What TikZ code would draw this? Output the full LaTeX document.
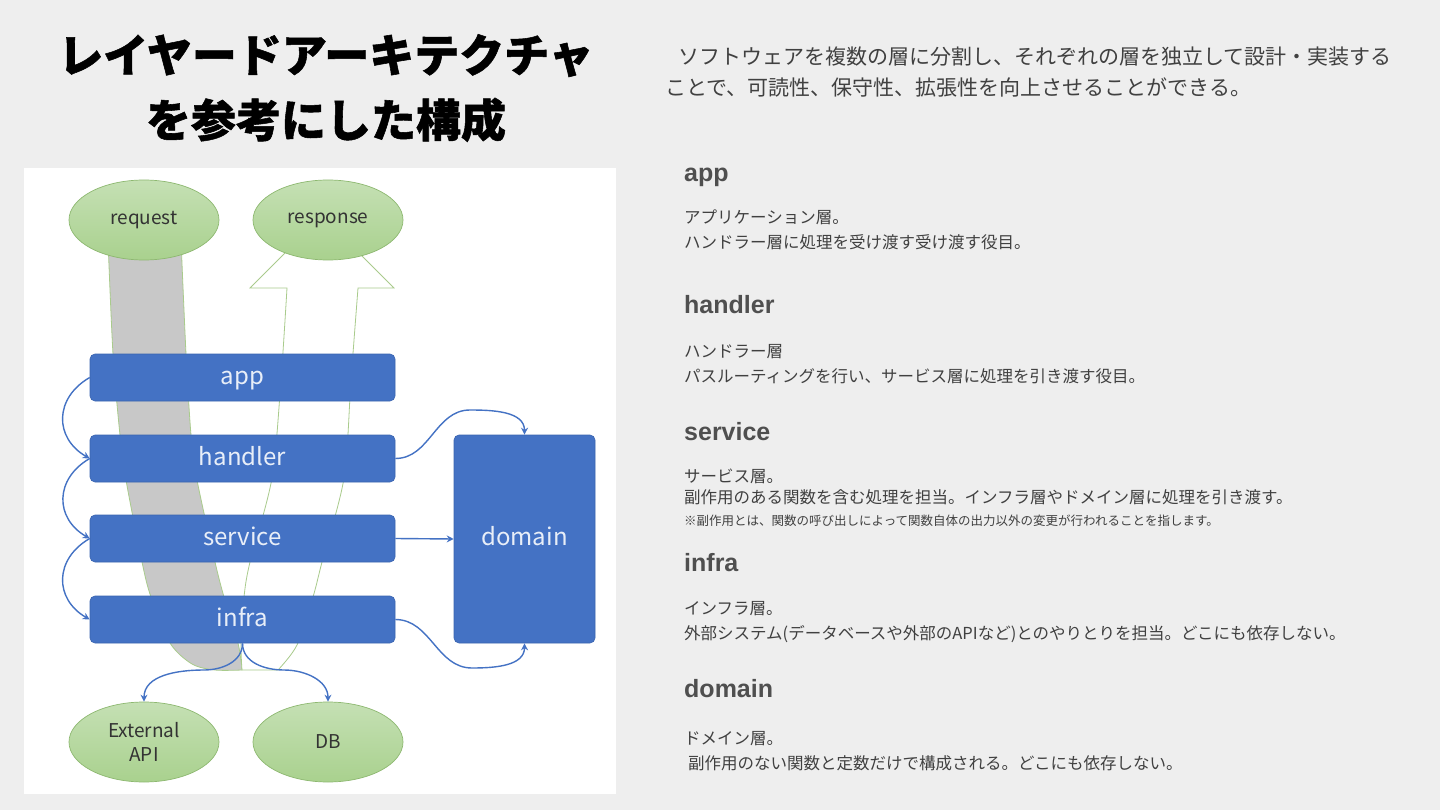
\documentclass[tikz,border=0pt]{standalone}
\usepackage{fontspec}
\setmainfont{Noto Sans CJK JP}
\newfontfamily\jp{Noto Sans CJK JP}
\newfontfamily\ttlfont{Noto Sans CJK JP}[BoldFeatures={FakeBold=1.2}]
\newfontfamily\hd{Liberation Sans}
\usetikzlibrary{arrows.meta,shapes.geometric}
\definecolor{bg}{HTML}{EEEEEE}
\definecolor{lblue}{HTML}{4472C4}
\definecolor{lblueedge}{HTML}{3A64B0}
\definecolor{gfill}{HTML}{A9D18E}
\definecolor{gtop}{HTML}{C5E0B4}
\definecolor{gline}{HTML}{8DB870}
\definecolor{bandc}{HTML}{C8C8C8}
\definecolor{arrline}{HTML}{A9CB8C}
\definecolor{txt}{HTML}{404040}
\definecolor{hdc}{HTML}{4F4F4F}
\definecolor{boxtxt}{HTML}{E8EEF8}
\tikzset{
  layer/.style={rectangle, rounded corners=5pt, fill=lblue, draw=lblueedge, line width=0.6pt,
    minimum width=305pt, minimum height=47pt, inner sep=0pt, text=boxtxt,
    text height=18pt, text depth=5pt,
    font=\jp\fontsize{24}{28}\selectfont},
  ext/.style={ellipse, top color=gtop, bottom color=gfill, draw=gline, line width=0.7pt,
    minimum width=150pt, minimum height=80pt, inner sep=0pt, text=black!80,
    font=\jp\fontsize{19}{22}\selectfont, align=center},
  conn/.style={draw=lblue, line width=1.4pt, -{Stealth[length=7pt,width=7pt]}},
  heading/.style={anchor=base west, inner sep=0pt, text=hdc, font=\hd\bfseries\fontsize{25}{30}\selectfont},
  body/.style={anchor=base west, inner sep=0pt, text=txt, font=\jp\fontsize{16.5}{20}\selectfont},
  desc/.style={anchor=base west, inner sep=0pt, text=txt, font=\jp\fontsize{21}{26}\selectfont},
  titletext/.style={anchor=base, inner sep=0pt, text=black, font=\ttlfont\bfseries\fontsize{45}{50}\selectfont}
}
\begin{document}
\begin{tikzpicture}[x=1pt,y=-1pt]
\useasboundingbox (0,0) rectangle (1440,810);
\fill[bg] (0,0) rectangle (1440,810);
% title
\node[titletext] (t1) at (326,72) {レイヤードアーキテクチャ};
\node[titletext] (t2) at (326,137) {を参考にした構成};
% description
\node[desc] (d1) at (678,65) {ソフトウェアを複数の層に分割し、それぞれの層を独立して設計・実装する};
\node[desc] (d2) at (665,96) {ことで、可読性、保守性、拡張性を向上させることができる。};
% headings and bodies
\node[heading] (happ) at (684,182) {app};
\node[body] (bapp1) at (684,224) {アプリケーション層。};
\node[body] (bapp2) at (684,249) {ハンドラー層に処理を受け渡す受け渡す役目。};
\node[heading] (hhan) at (684,313) {handler};
\node[body] (bhan1) at (684,357) {ハンドラー層};
\node[body] (bhan2) at (684,382) {パスルーティングを行い、サービス層に処理を引き渡す役目。};
\node[heading] (hser) at (684,440) {service};
\node[body] (bser1) at (684,482) {サービス層。};
\node[body] (bser2) at (684,503) {副作用のある関数を含む処理を担当。インフラ層やドメイン層に処理を引き渡す。};
\node[body, font=\jp\fontsize{12.5}{15}\selectfont] (bser3) at (684,525) {※副作用とは、関数の呼び出しによって関数自体の出力以外の変更が行われることを指します。};
\node[heading] (hinf) at (684,571) {infra};
\node[body] (binf1) at (684,614) {インフラ層。};
\node[body] (binf2) at (684,639) {外部システム(データベースや外部のAPIなど)とのやりとりを担当。どこにも依存しない。};
\node[heading] (hdom) at (684,697) {domain};
\node[body] (bdom1) at (684,744) {ドメイン層。};
\node[body] (bdom2) at (688,769) {副作用のない関数と定数だけで構成される。どこにも依存しない。};
% panel
\fill[white] (24,168) rectangle (616,794);
% gray request band
\filldraw[fill=bandc, draw=arrline, line width=0.8pt]
  plot[smooth] coordinates {(108,240) (113,354) (120,435) (126,480) (142,562) (151,597) (170,643) (192,664) (215,670) (242,670)}
  -- plot[smooth] coordinates {(242,670) (238,643) (224,597) (215,562) (197,480) (191,435) (186,354) (181,240)} -- cycle;
% response arrow outline
\filldraw[fill=white, draw=arrline, line width=0.8pt]
  (242,670) -- (278,670)
  -- plot[smooth] coordinates {(278,670) (297,645) (313,597) (322,562) (344,478) (351,380) (358,288)}
  -- (394,288) -- (322,216) -- (250,288) -- (287,288)
  -- plot[smooth] coordinates {(287,288) (281,380) (272,478) (250,562) (244,597) (241,643) (242,670)} -- cycle;
% ellipses
\node[ext] (req) at (144,220) {request};
\node[ext] (res) at (328,220) {response};
\node[ext] (api) at (144,742) {External\\[2pt]API};
\node[ext] (db) at (328,742) {DB};
% layers
\node[layer] (app) at (242.5,377.5) {app};
\node[layer] (handler) at (242.5,458.5) {handler};
\node[layer] (service) at (242.5,538.5) {service};
\node[layer] (infra) at (242.5,619.5) {infra};
\node[layer, minimum width=141pt, minimum height=208pt] (domain) at (524.5,539) {domain};
% connectors
\draw[conn] (app.west) to[out=210,in=150,looseness=1.3] (handler.west);
\draw[conn] (handler.west) to[out=210,in=150,looseness=1.3] (service.west);
\draw[conn] (service.west) to[out=210,in=150,looseness=1.3] (infra.west);
\coordinate (hpeak) at (470,410);
\coordinate (ipeak) at (472,668);
\draw[conn] (handler.east) to[out=0,in=180] (hpeak) to[out=0,in=90] (domain.north);
\draw[conn] (service.east) -- (domain.west);
\draw[conn] (infra.east) to[out=0,in=180] (ipeak) to[out=0,in=-90] (domain.south);
\coordinate (il) at (204,670);
\coordinate (ir) at (284,670);
\draw[conn] (infra.south) to[out=-90,in=0] (il) to[out=180,in=90] (api.north);
\draw[conn] (infra.south) to[out=-90,in=180] (ir) to[out=0,in=90] (db.north);
\end{tikzpicture}
\end{document}
